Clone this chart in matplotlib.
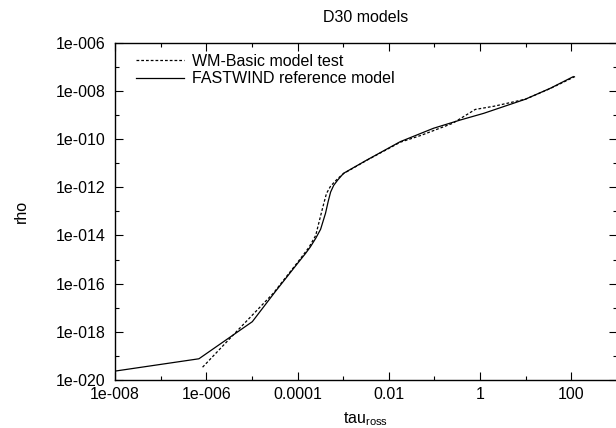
import matplotlib
matplotlib.use("Agg")
import matplotlib.pyplot as plt
import matplotlib.ticker as ticker

plt.rcParams['font.family'] = ['Liberation Sans', 'DejaVu Sans']
plt.rcParams['mathtext.fontset'] = 'custom'
plt.rcParams['mathtext.rm'] = 'Liberation Sans'
plt.rcParams['mathtext.it'] = 'Liberation Sans'

# FASTWIND reference model (solid)
fw_tau = [1.0e-8, 6.9e-7, 1.02e-5, 3.2e-5, 1.0e-4, 1.5e-4, 1.9e-4, 2.5e-4,
          3.2e-4, 4.1e-4, 4.7e-4, 5.3e-4, 6.2e-4, 7.6e-4, 1.02e-3, 3.3e-3,
          1.78e-2, 9.5e-2, 0.37, 1.2, 9.8, 34.7, 110.0]
fw_rho = [2.34e-20, 7.6e-20, 2.63e-18, 4.47e-17, 6.9e-16, 1.8e-15, 3.3e-15,
          7.6e-15, 1.8e-14, 8.3e-14, 2.6e-13, 6.3e-13, 1.2e-12, 2.0e-12,
          3.8e-12, 1.35e-11, 7.8e-11, 2.8e-10, 6.2e-10, 1.17e-9, 4.5e-9,
          1.29e-8, 3.9e-8]

# WM-Basic model test (dotted)
wm_tau = [8.3e-7, 3.9e-6, 2.95e-5, 1.0e-4, 1.78e-4, 2.5e-4, 3.0e-4, 3.55e-4,
          4.3e-4, 5.2e-4, 6.5e-4, 8.2e-4, 1.02e-3, 3.3e-3, 1.78e-2, 5.0e-2,
          0.25, 0.785, 2.0, 9.8, 34.7, 129.0]
wm_rho = [3.4e-20, 7.4e-19, 4.0e-17, 7.6e-16, 3.2e-15, 1.0e-14, 4.0e-14,
          1.41e-13, 5.5e-13, 1.05e-12, 1.7e-12, 2.6e-12, 3.7e-12, 1.32e-11,
          7.4e-11, 1.41e-10, 4.5e-10, 1.7e-9, 2.3e-9, 4.5e-9, 1.26e-8, 4.2e-8]

xticks = [1e-8, 1e-6, 1e-4, 1e-2, 1, 100]
xtick_labels = ['1e-008', '1e-006', '0.0001', '0.01', '1', '100']
yticks = [1e-20, 1e-18, 1e-16, 1e-14, 1e-12, 1e-10, 1e-8, 1e-6]
ytick_labels = ['1e-020', '1e-018', '1e-016', '1e-014', '1e-012',
                '1e-010', '1e-008', '1e-006']
xminor = [1e-7, 1e-5, 1e-3, 1e-1, 10, 1000]
yminor = [1e-19, 1e-17, 1e-15, 1e-13, 1e-11, 1e-9, 1e-7]

fs = 11.5
fig = plt.figure(figsize=(6.16, 4.28), dpi=100)
ax = fig.add_axes([115 / 616, 48 / 428, 502 / 616, 337.3 / 428])

ax.plot(wm_tau, wm_rho, color='black', lw=0.9, ls=(0, (2.2, 1.6)),
        label='WM-Basic model test')
ax.plot(fw_tau, fw_rho, color='black', lw=0.9, label='FASTWIND reference model')

ax.set_xscale('log')
ax.set_yscale('log')
ax.set_xlim(1e-8, 1e3)
ax.set_ylim(1e-20, 1e-6)

ax.xaxis.set_major_locator(ticker.FixedLocator(xticks))
ax.xaxis.set_major_formatter(ticker.FixedFormatter(xtick_labels))
ax.xaxis.set_minor_locator(ticker.FixedLocator(xminor))
ax.xaxis.set_minor_formatter(ticker.NullFormatter())
ax.yaxis.set_major_locator(ticker.FixedLocator(yticks))
ax.yaxis.set_major_formatter(ticker.FixedFormatter(ytick_labels))
ax.yaxis.set_minor_locator(ticker.FixedLocator(yminor))
ax.yaxis.set_minor_formatter(ticker.NullFormatter())

ax.tick_params(which='both', direction='in', top=True, right=True,
               labelsize=fs, width=0.8)
ax.tick_params(which='major', length=6)
ax.tick_params(which='minor', length=3)
ax.tick_params(axis='x', pad=5)
ax.tick_params(axis='y', pad=7)
for s in ax.spines.values():
    s.set_linewidth(1.0)

ax.set_title('D30 models', fontsize=fs, pad=15)
ax.set_xlabel(r'tau$_{\rm ross}$', fontsize=fs, labelpad=6)
ax.set_ylabel('rho', fontsize=fs, labelpad=19)

ax.legend(loc='upper left', frameon=False, fontsize=fs, handlelength=3.0,
          handletextpad=0.5, labelspacing=0.15, borderaxespad=0.3,
          bbox_to_anchor=(0.02, 1.0))

fig.savefig('out.png', dpi=100)
